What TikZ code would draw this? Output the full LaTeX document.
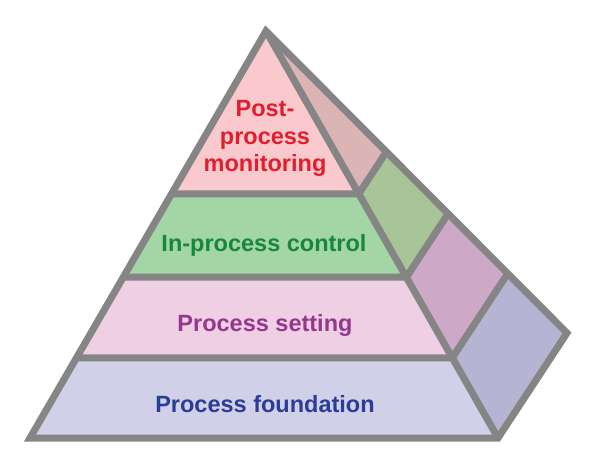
\documentclass[tikz,border=0pt]{standalone}
\usepackage{fontspec}
\setmainfont{Liberation Sans}
\usetikzlibrary{calc}
\definecolor{linegray}{HTML}{858585}
\definecolor{ftop}{HTML}{F9C9CD}
\definecolor{rtop}{HTML}{DDB4B6}
\definecolor{fgreen}{HTML}{A3D5A5}
\definecolor{rgreen}{HTML}{A8C598}
\definecolor{fpink}{HTML}{EECFE3}
\definecolor{rpink}{HTML}{CDA9C7}
\definecolor{fblue}{HTML}{D0D0E8}
\definecolor{rblue}{HTML}{B5B5D3}
\definecolor{tred}{HTML}{E21D2E}
\definecolor{tgreen}{HTML}{15883D}
\definecolor{tpurple}{HTML}{96368D}
\definecolor{tblue}{HTML}{2B3D96}
\begin{document}
\begin{tikzpicture}[x=1pt,y=-1pt,
  edge/.style={draw=linegray,line width=7pt,line join=miter},
  lbl/.style={font=\bfseries\fontsize{23.5}{27.5}\selectfont,anchor=base,inner sep=0pt}]
\useasboundingbox (0,0) rectangle (600,470);
\coordinate (A) at (266,31);
\coordinate (BL) at (30,438);
\coordinate (BR) at (498,438);
\coordinate (RC) at (567,333);
\foreach \n/\t in {1/0.40,2/0.605,3/0.803}{
  \coordinate (L\n) at ($(A)!\t!(BL)$);
  \coordinate (F\n) at ($(A)!\t!(BR)$);
  \coordinate (K\n) at ($(A)!\t!(RC)$);
}
% front faces
\fill[ftop] (A) -- (L1) -- (F1) -- cycle;
\fill[fgreen] (L1) -- (L2) -- (F2) -- (F1) -- cycle;
\fill[fpink] (L2) -- (L3) -- (F3) -- (F2) -- cycle;
\fill[fblue] (L3) -- (BL) -- (BR) -- (F3) -- cycle;
% right faces
\fill[rtop] (A) -- (F1) -- (K1) -- cycle;
\fill[rgreen] (F1) -- (F2) -- (K2) -- (K1) -- cycle;
\fill[rpink] (F2) -- (F3) -- (K3) -- (K2) -- cycle;
\fill[rblue] (F3) -- (BR) -- (RC) -- (K3) -- cycle;
% lines
\draw[edge] (A) -- (BL) -- (BR) -- (RC) -- cycle;
\draw[edge] (A) -- (BR);
\draw[edge] (L1) -- (F1) -- (K1);
\draw[edge] (L2) -- (F2) -- (K2);
\draw[edge] (L3) -- (F3) -- (K3);
% labels
\node[lbl,text=tred] (t1a) at (265,117) {Post-};
\node[lbl,text=tred] (t1b) at (265,145) {process};
\node[lbl,text=tred] (t1c) at (265,172) {monitoring};
\node[lbl,text=tgreen] (t2) at (264,252) {In-process control};
\node[lbl,text=tpurple] (t3) at (265,332) {Process setting};
\node[lbl,text=tblue] (t4) at (265,413) {Process foundation};
\end{tikzpicture}
\end{document}
